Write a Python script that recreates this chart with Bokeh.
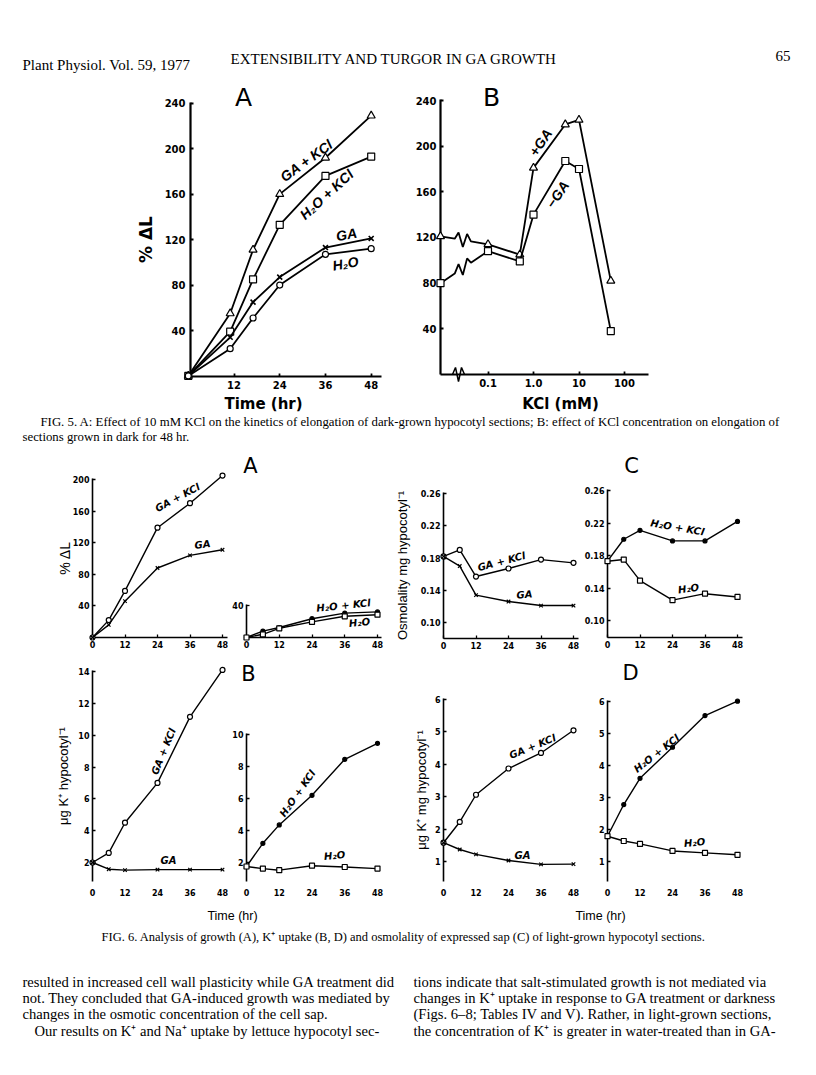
import numpy as np
from bokeh.plotting import figure
from bokeh.models import Range1d, FixedTicker, NumeralTickFormatter
from bokeh.layouts import column, row
from bokeh.core.properties import value
from bokeh.embed import file_html
from bokeh.resources import INLINE

# ---------------- data ----------------
# Fig. 5A: % elongation vs time (hr), dark-grown sections
f5a_time = [0, 11, 17, 24, 36, 48]
f5a_ga_kcl = [0, 55, 111, 160, 192, 229]
f5a_h2o_kcl = [0, 39, 85, 133, 176, 193]
f5a_ga = [0, 34, 65, 87, 113, 121]
f5a_h2o = [0, 24, 51, 80, 107, 112]

# Fig. 5B: % elongation vs KCl concentration (mM), 48 hr
f5b_kcl_mM = [0, 0.1, 0.5, 1.0, 5, 10, 50]
f5b_plus_ga = [121, 114, 105, 181, 219, 223, 82]
f5b_minus_ga = [80, 108, 99, 140, 187, 180, 38]
f5b_tick_values = [0.1, 1.0, 10, 100]
f5b_tick_labels = ["0.1", "1.0", "10", "100"]

# Fig. 6 (light-grown sections), time in hr
f6_time = [0, 6, 12, 24, 36, 48]
# A: % elongation
f6a_ga_kcl = [0, 22, 59, 139, 170, 205]
f6a_ga = [0, 16, 46, 88, 104, 111]
f6a_h2o_kcl = [0, 8, 12.5, 23.5, 30.5, 32]
f6a_h2o = [0, 4, 11.5, 19.5, 26.5, 28.5]
# C: osmolality mg hypocotyl-1
f6c_ga_kcl = [0.182, 0.190, 0.157, 0.167, 0.178, 0.174]
f6c_ga = [0.182, 0.170, 0.134, 0.126, 0.121, 0.121]
f6c_h2o_kcl = [0.173, 0.200, 0.211, 0.198, 0.198, 0.222]
f6c_h2o = [0.173, 0.175, 0.149, 0.125, 0.133, 0.129]
# B: ug K+ hypocotyl-1
f6b_ga_kcl = [2.0, 2.6, 4.5, 7.0, 11.15, 14.1]
f6b_ga = [2.0, 1.58, 1.52, 1.55, 1.55, 1.55]
f6b_h2o_kcl = [1.75, 3.2, 4.35, 6.2, 8.45, 9.45]
f6b_h2o = [1.75, 1.62, 1.52, 1.8, 1.72, 1.62]
# D: ug K+ mg hypocotyl-1
f6d_ga_kcl = [1.58, 2.22, 3.06, 3.87, 4.35, 5.05]
f6d_ga = [1.58, 1.37, 1.22, 1.03, 0.91, 0.92]
f6d_h2o_kcl = [1.79, 2.78, 3.6, 4.57, 5.56, 6.01]
f6d_h2o = [1.79, 1.64, 1.55, 1.33, 1.27, 1.21]

f6_time_ticks = [0, 12, 24, 36, 48]

SANS = "DejaVu Sans"
HELV = "Liberation Sans"
SERIF = "Liberation Serif"
PAGE_W = 810


def make_panel(fig_box, frame_box, xcal, ycal, x_log=False):
    fl, ft, fr, fb = fig_box
    al, at, ar, ab = frame_box
    (xv1, xp1), (xv2, xp2) = xcal
    if x_log:
        fx = lambda v: float(np.log10(v))
        gx = lambda v: float(10 ** v)
    else:
        fx = lambda v: float(v)
        gx = lambda v: float(v)
    kx = (fx(xv2) - fx(xv1)) / (xp2 - xp1)

    def x_at(px):
        return gx(fx(xv1) + (px - xp1) * kx)

    (yv1, yp1), (yv2, yp2) = ycal
    ky = (yv2 - yv1) / (yp2 - yp1)

    def y_at(py):
        return float(yv1 + (py - yp1) * ky)

    p = figure(width=fr - fl, height=fb - ft,
               x_range=Range1d(x_at(al), x_at(ar)),
               y_range=Range1d(y_at(ab), y_at(at)),
               x_axis_type="log" if x_log else "linear",
               output_backend="svg", toolbar_location=None,
               min_border_left=al - fl, min_border_right=fr - ar,
               min_border_top=at - ft, min_border_bottom=fb - ab)
    if "frame_align" in p.properties():
        p.frame_align = False
    p.outline_line_color = None
    p.grid.visible = False
    p.background_fill_color = "white"
    p.border_fill_color = "white"
    return p, (lambda px, py: (x_at(px), y_at(py)))


def style(p, xticks, yticks, fs, lw, x_line=True, xstand=3, ystand=3):
    p.xaxis.ticker = FixedTicker(ticks=xticks)
    p.yaxis.ticker = FixedTicker(ticks=yticks)
    for ax in (p.xaxis[0], p.yaxis[0]):
        ax.axis_line_width = lw
        ax.axis_line_color = "black"
        ax.major_tick_in = 3
        ax.major_tick_out = 0
        ax.major_tick_line_width = lw * 0.8
        ax.major_tick_line_color = "black"
        ax.minor_tick_line_color = None
        ax.major_label_text_font = SANS
        ax.major_label_text_font_style = "bold"
        ax.major_label_text_font_size = f"{fs}px"
        ax.major_label_text_color = "black"
    p.xaxis[0].major_label_standoff = xstand
    p.yaxis[0].major_label_standoff = ystand
    if not x_line:
        p.xaxis[0].axis_line_color = None
        p.xaxis[0].major_tick_line_color = None


def ylabel(p, text, size, standoff, font=HELV, style_="normal"):
    p.yaxis[0].axis_label = text
    p.yaxis[0].axis_label_text_font = font
    p.yaxis[0].axis_label_text_font_size = f"{size}px"
    p.yaxis[0].axis_label_text_font_style = style_
    p.yaxis[0].axis_label_text_color = "black"
    p.yaxis[0].axis_label_standoff = standoff


def series(p, x, y, marker, size, lw, filled=False, mlw=1.2, draw_line=True):
    if draw_line:
        r = p.line(x, y, line_color="black", line_width=lw)
        r.level = "overlay"
    s = p.scatter(x, y, marker=marker, size=size, line_color="black",
                  line_width=mlw, fill_color="black" if filled else "white")
    s.level = "overlay"


def label(p, conv, px, py, text, size, angle=0, font=SANS,
          style_="bold italic", align="center"):
    x, y = conv(px, py)
    r = p.text(x=[x], y=[y], text=[text], angle=angle, angle_units="deg",
               text_align=value(align), text_baseline=value("middle"),
               text_font=value(font), text_font_size=value(f"{size}px"),
               text_font_style=value(style_), text_color="black")
    r.level = "overlay"


# ---------------- Fig. 5A ----------------
f5a, c5a = make_panel((0, 80, 400, 413), (190, 102, 381, 376),
                      ((12, 233.5), (48, 370.7)), ((40, 330), (240, 102.7)))
style(f5a, [12, 24, 36, 48], [40, 80, 120, 160, 200, 240], 10, 2.2,
      xstand=4, ystand=5)
ylabel(f5a, "% ΔL", 17, 6, font=SANS, style_="bold")
series(f5a, f5a_time, f5a_ga_kcl, "triangle", 8, 1.8)
series(f5a, f5a_time, f5a_h2o_kcl, "square", 7, 1.8)
series(f5a, f5a_time, f5a_ga, "x", 7, 1.8, mlw=1.6)
series(f5a, f5a_time, f5a_h2o, "circle", 6, 1.8)
label(f5a, c5a, 243, 97, "A", 25, font=SANS, style_="normal")
label(f5a, c5a, 306, 160, "GA + KCl", 14, 36, font=HELV)
label(f5a, c5a, 326, 194, "H₂O + KCl", 14, 42, font=HELV)
label(f5a, c5a, 346, 234, "GA", 14, 10, font=HELV)
label(f5a, c5a, 345, 263, "H₂O", 14, 10, font=HELV)
label(f5a, c5a, 263, 403, "Time (hr)", 15, 0, style_="bold")

# ---------------- Fig. 5B ----------------
f5b, c5b = make_panel((400, 80, 660, 413), (440, 99, 648, 374),
                      ((1.0, 533), (100, 624)), ((40, 328.3), (240, 100)),
                      x_log=True)
style(f5b, f5b_tick_values, [40, 80, 120, 160, 200, 240], 10, 2.2,
      xstand=4, ystand=4)
f5b.xaxis[0].major_label_overrides = {v: t for v, t in zip(f5b_tick_values, f5b_tick_labels)}
x0 = f5b.x_range.start
f5b_x = [x0 if c == 0 else c for c in f5b_kcl_mM]


def zigzag(xa, ya, xb, yb, amp):
    ts = np.array([0, 0.30, 0.38, 0.47, 0.56, 0.64, 1.0])
    off = np.array([0, 0, 1, -1, 1, 0, 0]) * amp
    la, lb = np.log10(xa), np.log10(xb)
    return list(10 ** (la + ts * (lb - la))), list(ya + ts * (yb - ya) + off)


for ys, mk in ((f5b_plus_ga, "triangle"), (f5b_minus_ga, "square")):
    zx, zy = zigzag(f5b_x[0], ys[0], f5b_x[1], ys[1], 6)
    r = f5b.line(zx, zy, line_color="black", line_width=1.8)
    r.level = "overlay"
    r = f5b.line(f5b_x[1:], ys[1:], line_color="black", line_width=1.8)
    r.level = "overlay"
    series(f5b, f5b_x, ys, mk, 8 if mk == "triangle" else 7, 1.8, draw_line=False)

# x-axis break mark
bx = [c5b(px, 0)[0] for px in (452, 455, 458, 461, 464)]
by = [c5b(0, py)[1] for py in (374, 367, 381, 367, 374)]
r = f5b.line(bx, by, line_color="black", line_width=1.5)
r.level = "overlay"
label(f5b, c5b, 491, 97, "B", 25, font=SANS, style_="normal")
label(f5b, c5b, 540, 142, "+GA", 14, 56, font=HELV)
label(f5b, c5b, 557, 194, "−GA", 14, 56, font=HELV)
label(f5b, c5b, 560, 403, "KCl (mM)", 15, 0, style_="bold")

# ---------------- Fig. 6 top row ----------------
FS6 = 8
LW6 = 1.4
AX6 = 1.6

p6a1, c6a1 = make_panel((0, 455, 228, 660), (92, 478, 227, 637),
                        ((0, 92), (48, 222)), ((0, 637), (200, 479)))
style(p6a1, f6_time_ticks, [40, 80, 120, 160, 200], FS6, AX6)
ylabel(p6a1, "% ΔL", 14, -3)
series(p6a1, f6_time, f6a_ga_kcl, "circle", 5, LW6)
series(p6a1, f6_time, f6a_ga, "x", 5, LW6)
label(p6a1, c6a1, 177, 497, "GA + KCl", 10, 28)
label(p6a1, c6a1, 202, 544, "GA", 10, 8)

p6a2, c6a2 = make_panel((228, 455, 390, 660), (246, 604, 381, 637),
                        ((0, 246), (48, 377)), ((0, 637), (40, 605)))
style(p6a2, f6_time_ticks, [40], FS6, AX6)
series(p6a2, f6_time, f6a_h2o_kcl, "circle", 4, LW6, filled=True)
series(p6a2, f6_time, f6a_h2o, "square", 5, LW6)
label(p6a2, c6a2, 250, 465, "A", 21, font=SANS, style_="normal")
label(p6a2, c6a2, 343, 605, "H₂O + KCl", 10, 6)
label(p6a2, c6a2, 359, 622, "H₂O", 10, 6)

p6c1, c6c1 = make_panel((390, 455, 581, 660), (443, 492, 578, 638),
                        ((0, 443), (48, 573)), ((0.10, 622), (0.26, 493)))
style(p6c1, f6_time_ticks, [0.10, 0.14, 0.18, 0.22, 0.26], FS6, AX6)
p6c1.yaxis[0].formatter = NumeralTickFormatter(format="0.00")
ylabel(p6c1, "Osmolality mg hypocotyl⁻¹", 13, 8)
series(p6c1, f6_time, f6c_ga_kcl, "circle", 5, LW6)
series(p6c1, f6_time, f6c_ga, "x", 5, LW6)
label(p6c1, c6c1, 501, 561, "GA + KCl", 10, 15)
label(p6c1, c6c1, 524, 594, "GA", 10, 5)

p6c2, c6c2 = make_panel((581, 455, 800, 660), (607, 489, 742, 637),
                        ((0, 607), (48, 737)), ((0.10, 620), (0.26, 490)))
style(p6c2, f6_time_ticks, [0.10, 0.14, 0.18, 0.22, 0.26], FS6, AX6)
p6c2.yaxis[0].formatter = NumeralTickFormatter(format="0.00")
series(p6c2, f6_time, f6c_h2o_kcl, "circle", 4, LW6, filled=True)
series(p6c2, f6_time, f6c_h2o, "square", 5, LW6)
label(p6c2, c6c2, 631, 465, "C", 21, font=SANS, style_="normal")
label(p6c2, c6c2, 677, 527, "H₂O + KCl", 10, -10)
label(p6c2, c6c2, 688, 588, "H₂O", 10, 8)

# ---------------- Fig. 6 bottom row ----------------
p6b1, c6b1 = make_panel((0, 660, 228, 905), (92, 670, 227, 881),
                        ((0, 92), (48, 222)), ((2, 862), (14, 671)))
style(p6b1, f6_time_ticks, [2, 4, 6, 8, 10, 12, 14], FS6, AX6, x_line=False, xstand=7)
ylabel(p6b1, "μg K⁺ hypocotyl⁻¹", 13, 4)
series(p6b1, f6_time, f6b_ga_kcl, "circle", 5, LW6)
series(p6b1, f6_time, f6b_ga, "x", 5, LW6)
label(p6b1, c6b1, 163, 751, "GA + KCl", 10, 68)
label(p6b1, c6b1, 168, 860, "GA", 10, 0)

p6b2, c6b2 = make_panel((228, 660, 390, 905), (246, 733, 381, 881),
                        ((0, 246), (48, 377)), ((2, 862), (10, 734)))
style(p6b2, f6_time_ticks, [2, 4, 6, 8, 10], FS6, AX6, x_line=False, xstand=7)
series(p6b2, f6_time, f6b_h2o_kcl, "circle", 4, LW6, filled=True)
series(p6b2, f6_time, f6b_h2o, "square", 5, LW6)
label(p6b2, c6b2, 248, 673, "B", 21, font=SANS, style_="normal")
label(p6b2, c6b2, 297, 793, "H₂O + KCl", 10, 55)
label(p6b2, c6b2, 334, 855, "H₂O", 10, 5)

p6d1, c6d1 = make_panel((390, 660, 581, 905), (443, 698, 578, 881),
                        ((0, 443), (48, 573)), ((1, 861), (6, 699)))
style(p6d1, f6_time_ticks, [1, 2, 3, 4, 5, 6], FS6, AX6, x_line=False, xstand=7)
ylabel(p6d1, "μg K⁺ mg hypocotyl⁻¹", 13, 3)
series(p6d1, f6_time, f6d_ga_kcl, "circle", 5, LW6)
series(p6d1, f6_time, f6d_ga, "x", 5, LW6)
label(p6d1, c6d1, 532, 746, "GA + KCl", 10, 22)
label(p6d1, c6d1, 522, 855, "GA", 10, 0)

p6d2, c6d2 = make_panel((581, 660, 800, 905), (607, 700, 742, 881),
                        ((0, 607), (48, 737)), ((1, 861), (6, 701)))
style(p6d2, f6_time_ticks, [1, 2, 3, 4, 5, 6], FS6, AX6, x_line=False, xstand=7)
series(p6d2, f6_time, f6d_h2o_kcl, "circle", 4, LW6, filled=True)
series(p6d2, f6_time, f6d_h2o, "square", 5, LW6)
label(p6d2, c6d2, 630, 672, "D", 21, font=SANS, style_="normal")
label(p6d2, c6d2, 656, 753, "H₂O + KCl", 10, 38)
label(p6d2, c6d2, 694, 842, "H₂O", 10, 5)


# ---------------- text strips ----------------
def text_fig(top, bottom, items):
    p = figure(width=PAGE_W, height=bottom - top, x_range=Range1d(0, PAGE_W),
               y_range=Range1d(bottom, top), output_backend="svg",
               toolbar_location=None, min_border=0,
               x_axis_location=None, y_axis_location=None)
    if "frame_align" in p.properties():
        p.frame_align = False
    p.outline_line_color = None
    p.grid.visible = False
    for (x, y, t, size, font, st, align) in items:
        r = p.text(x=[x], y=[y], text=[t], text_font=value(font),
                   text_font_size=value(f"{size}px"), text_font_style=value(st),
                   text_align=value(align), text_baseline=value("middle"),
                   text_color="black")
        r.level = "overlay"
    return p


header = text_fig(0, 80, [
    (22, 64, "Plant Physiol. Vol. 59, 1977", 15, SERIF, "normal", "left"),
    (230, 58, "EXTENSIBILITY AND TURGOR IN GA GROWTH", 15, SERIF, "normal", "left"),
    (790, 55, "65", 15, SERIF, "normal", "right"),
])

cap5 = text_fig(413, 455, [
    (40, 421, "FIG. 5. A: Effect of 10 mM KCl on the kinetics of elongation of dark-grown "
              "hypocotyl sections; B: effect of KCl concentration on elongation of",
     12.8, SERIF, "normal", "left"),
    (22, 436, "sections grown in dark for 48 hr.", 12.8, SERIF, "normal", "left"),
])

bottom = text_fig(905, 1070, [
    (232, 915, "Time (hr)", 12.5, HELV, "normal", "center"),
    (600, 915, "Time (hr)", 12.5, HELV, "normal", "center"),
    (403, 936, "FIG. 6. Analysis of growth (A), K⁺ uptake (B, D) and osmolality of "
               "expressed sap (C) of light-grown hypocotyl sections.",
     12.5, SERIF, "normal", "center"),
    (22, 981, "resulted in increased cell wall plasticity while GA treatment did", 14.6, SERIF, "normal", "left"),
    (22, 997, "not. They concluded that GA-induced growth was mediated by", 14.6, SERIF, "normal", "left"),
    (22, 1013, "changes in the osmotic concentration of the cell sap.", 14.6, SERIF, "normal", "left"),
    (34, 1030, "Our results on K⁺ and Na⁺ uptake by lettuce hypocotyl sec-", 14.6, SERIF, "normal", "left"),
    (413, 981, "tions indicate that salt-stimulated growth is not mediated via", 14.6, SERIF, "normal", "left"),
    (413, 997, "changes in K⁺ uptake in response to GA treatment or darkness", 14.6, SERIF, "normal", "left"),
    (413, 1013, "(Figs. 6–8; Tables IV and V). Rather, in light-grown sections,", 14.6, SERIF, "normal", "left"),
    (413, 1030, "the concentration of K⁺ is greater in water-treated than in GA-", 14.6, SERIF, "normal", "left"),
])

page = column(
    header,
    row(f5a, f5b),
    cap5,
    row(p6a1, p6a2, p6c1, p6c2),
    row(p6b1, p6b2, p6d1, p6d2),
    bottom,
)

open("out.html", "w").write(file_html(page, INLINE))
